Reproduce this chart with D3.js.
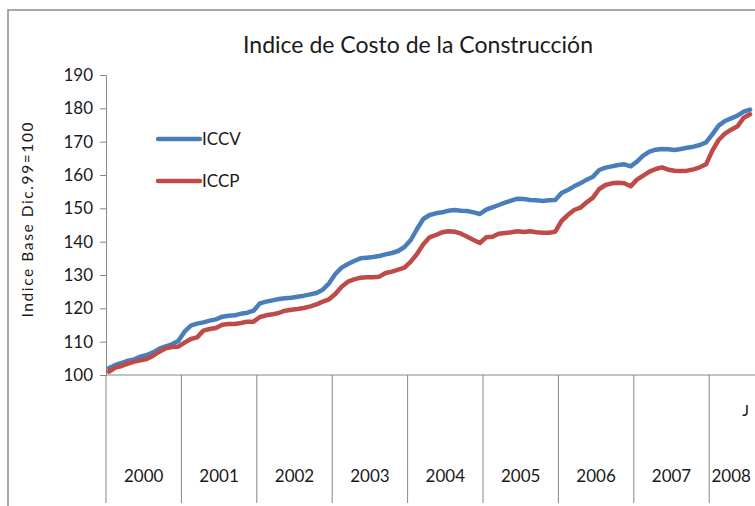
<!DOCTYPE html>
<html>
<head>
<meta charset="utf-8">
<script src="https://cdn.jsdelivr.net/npm/d3@7"></script>
<style>
  body { margin: 0; background: #fff; }
  svg text { font-family: Lato, "Open Sans", sans-serif; fill: #1a1a1a; }
</style>
</head>
<body>
<svg id="chart" width="755" height="506"></svg>
<script>
var years = ["2000", "2001", "2002", "2003", "2004", "2005", "2006", "2007", "2008"];
var monthsInYear = [12, 12, 12, 12, 12, 12, 12, 12, 7];
var yTicks = [100, 110, 120, 130, 140, 150, 160, 170, 180, 190];

// ICCV, mensual desde ene-2000
var iccv = [
  102.1, 103.0, 103.6, 104.3, 104.7, 105.5, 106.0, 106.8, 107.9, 108.6, 109.2, 110.2,
  113.0, 114.8, 115.4, 115.8, 116.3, 116.7, 117.5, 117.8, 117.9, 118.4, 118.7, 119.3,
  121.5, 122.0, 122.4, 122.8, 123.0, 123.2, 123.5, 123.8, 124.2, 124.6, 125.6, 127.5,
  130.3, 132.2, 133.3, 134.2, 135.0, 135.2, 135.4, 135.7, 136.2, 136.6, 137.2, 138.4,
  140.5, 143.8, 146.8, 148.0, 148.5, 148.8, 149.3, 149.5, 149.3, 149.2, 148.8, 148.3,
  149.6, 150.3, 151.0, 151.7, 152.3, 152.9, 152.8, 152.5, 152.4, 152.2, 152.4, 152.5,
  154.6, 155.5, 156.6, 157.5, 158.6, 159.5, 161.5, 162.2, 162.6, 163.0, 163.2, 162.6,
  164.0, 165.8, 167.0, 167.6, 167.8, 167.7, 167.5, 167.8, 168.2, 168.5, 169.0, 169.8,
  172.2, 174.8, 176.2, 177.0, 177.8, 179.0, 179.6
];

// ICCP, mensual desde ene-2000
var iccp = [
  101.0, 102.2, 102.7, 103.4, 104.0, 104.4, 104.8, 105.8, 107.0, 108.0, 108.4, 108.5,
  109.7, 110.8, 111.3, 113.3, 113.8, 114.1, 115.1, 115.3, 115.3, 115.6, 116.0, 116.0,
  117.4, 117.9, 118.2, 118.6, 119.3, 119.6, 119.8, 120.1, 120.6, 121.2, 122.0, 122.7,
  124.3, 126.5, 128.0, 128.7, 129.2, 129.3, 129.3, 129.5, 130.6, 131.0, 131.6, 132.2,
  134.0, 136.3, 139.2, 141.3, 142.0, 142.8, 143.1, 143.0, 142.4, 141.5, 140.5, 139.6,
  141.3, 141.5, 142.4, 142.6, 142.8, 143.1, 142.9, 143.1, 142.8, 142.7, 142.7, 143.0,
  146.2, 148.0, 149.5, 150.2, 151.8, 153.2, 155.8, 157.0, 157.5, 157.7, 157.5, 156.6,
  158.6, 159.8, 161.0, 161.8, 162.3, 161.6, 161.3, 161.2, 161.3, 161.7, 162.3, 163.2,
  167.3, 170.5, 172.4, 173.6, 174.6, 177.2, 178.2
];

var seriesNames = ["ICCV", "ICCP"];
var seriesColors = ["#4a7ebb", "#be4b48"];

var svg = d3.select("#chart");
var axisColor = "#868686";
var plotLeft = 106, plotTop = 75, plotBottom = 375, monthW = 75.4 / 12;
var nMonths = d3.sum(monthsInYear);

// outer frame
svg.append("rect")
  .attr("x", 8).attr("y", 10)
  .attr("width", 800).attr("height", 560)
  .attr("fill", "none")
  .attr("stroke", "#8c8c8c")
  .attr("stroke-width", 1.5);

var x = d3.scaleBand()
  .domain(d3.range(nMonths))
  .range([plotLeft, plotLeft + nMonths * monthW]);
var y = d3.scaleLinear().domain([100, 190]).range([plotBottom, plotTop]);

// y axis
var yAxis = svg.append("g")
  .attr("transform", "translate(" + plotLeft + ",0)")
  .call(d3.axisLeft(y).tickValues(yTicks).tickSize(6).tickPadding(7));
yAxis.select(".domain").attr("stroke", axisColor);
yAxis.selectAll(".tick line").attr("stroke", axisColor);
yAxis.selectAll(".tick text")
  .style("font-size", "17px")
  .attr("fill", "#1a1a1a");

// x axis line
svg.append("line")
  .attr("x1", plotLeft).attr("x2", 755)
  .attr("y1", plotBottom).attr("y2", plotBottom)
  .attr("stroke", axisColor);

// year separators and labels
var yearStart = [];
var acc = 0;
monthsInYear.forEach(function (m) { yearStart.push(acc); acc += m; });

svg.selectAll("line.sep")
  .data(yearStart)
  .enter().append("line")
    .attr("class", "sep")
    .attr("x1", function (d) { return x(d); })
    .attr("x2", function (d) { return x(d); })
    .attr("y1", plotBottom)
    .attr("y2", 503)
    .attr("stroke", axisColor);

svg.selectAll("text.year")
  .data(years)
  .enter().append("text")
    .attr("class", "year")
    .attr("x", function (d, i) { return x(yearStart[i]) + monthsInYear[i] * monthW / 2; })
    .attr("y", 482)
    .attr("text-anchor", "middle")
    .style("font-size", "17px")
    .text(function (d) { return d; });

svg.append("text")
  .attr("x", 749)
  .attr("y", 416)
  .attr("text-anchor", "end")
  .style("font-size", "16px")
  .text("J");

// lines
var line = d3.line()
  .x(function (d, i) { return x(i) + x.bandwidth() / 2; })
  .y(function (d) { return y(d); });

[iccv, iccp].forEach(function (s, k) {
  svg.append("path")
    .datum(s)
    .attr("fill", "none")
    .attr("stroke", seriesColors[k])
    .attr("stroke-width", 4.5)
    .attr("stroke-linejoin", "round")
    .attr("stroke-linecap", "round")
    .attr("d", line);
});

// legend
var gLegend = svg.append("g");
seriesNames.forEach(function (name, k) {
  var ly = 139 + k * 42;
  gLegend.append("line")
    .attr("x1", 158).attr("x2", 200)
    .attr("y1", ly).attr("y2", ly)
    .attr("stroke", seriesColors[k])
    .attr("stroke-width", 4.5)
    .attr("stroke-linecap", "round");
  gLegend.append("text")
    .attr("x", 202)
    .attr("y", ly + 6)
    .style("font-size", "17px")
    .text(name);
});

// title
svg.append("text")
  .attr("x", 418)
  .attr("y", 53)
  .attr("text-anchor", "middle")
  .style("font-size", "23px")
  .attr("textLength", 350)
  .text("Indice de Costo de la Construcción");

// y axis title
svg.append("text")
  .attr("transform", "translate(33,220) rotate(-90)")
  .attr("text-anchor", "middle")
  .style("font-size", "15.5px")
  .attr("textLength", 195)
  .text("Indice Base Dic.99=100");
</script>
</body>
</html>
